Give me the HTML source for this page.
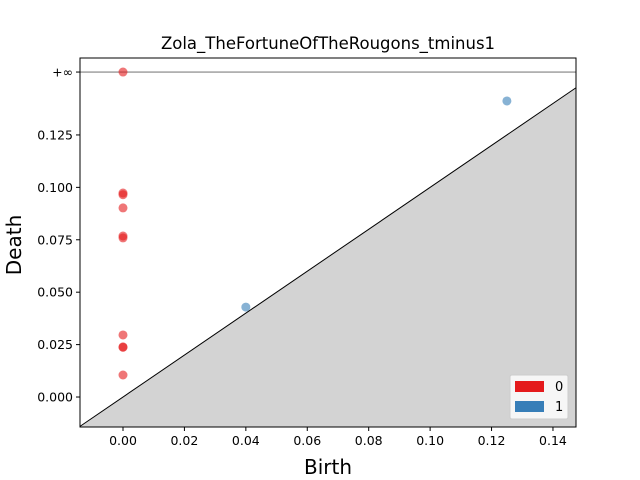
<!DOCTYPE html>
<html><head><meta charset="utf-8"><style>body{margin:0;background:#fff}svg{display:block}text{font-family:"DejaVu Sans","Liberation Sans",sans-serif}</style></head>
<body>
<svg id="c" width="640" height="480" xmlns="http://www.w3.org/2000/svg"></svg>
<script>
const h0Births=[0,0,0,0,0,0,0,0,0,0];
const h0Deaths=[Infinity,0.0973,0.0965,0.0902,0.0768,0.0759,0.0296,0.0239,0.0237,0.0105];
const h1Births=[0.04,0.125];
const h1Deaths=[0.0429,0.1412];
const xTicks=[0,0.02,0.04,0.06,0.08,0.10,0.12,0.14];
const yTicks=[0,0.025,0.05,0.075,0.1,0.125];
const xMin=-0.014,xMax=0.1475,yMin=-0.0143,yMax=0.1617,infVal=0.155;
const L=80,R=576,T=58,B=427;
const sx=v=>L+(v-xMin)/(xMax-xMin)*(R-L);
const sy=v=>B-(v-yMin)/(yMax-yMin)*(B-T);
const svg=document.getElementById('c');const NS='http://www.w3.org/2000/svg';
function mk(t,a,p){const e=document.createElementNS(NS,t);for(const k in a)e.setAttribute(k,a[k]);(p||svg).appendChild(e);return e;}
let e=mk('polygon',{points:`${sx(xMin)},${sy(yMin)} ${sx(xMax)},${sy(xMin)} ${sx(xMax)},${sy(xMax)}`,fill:'#d3d3d3'});


e=mk('line',{x1:sx(xMin),y1:sy(xMin),x2:sx(xMax),y2:sy(xMax),stroke:'#000','stroke-width':1});


e=mk('line',{x1:L,y1:sy(infVal),x2:R,y2:sy(infVal),stroke:'#808080','stroke-width':1.2});


h0Births.forEach((b,i)=>{const dv=h0Deaths[i]===Infinity?infVal:h0Deaths[i];
e=mk('circle',{cx:sx(b),cy:sy(dv),r:4.5,fill:'#e41a1c','fill-opacity':0.6});

});
h1Births.forEach((b,i)=>{
e=mk('circle',{cx:sx(b),cy:sy(h1Deaths[i]),r:4.5,fill:'#377eb8','fill-opacity':0.6});

});
e=mk('rect',{x:L,y:T,width:R-L,height:B-T,fill:'none',stroke:'#000','stroke-width':1});


xTicks.forEach(v=>{const x=sx(v);mk('line',{x1:x,y1:B,x2:x,y2:B+4,stroke:'#000'});
e=mk('text',{x:x,y:B+18,'font-size':12.5,'text-anchor':'middle'});e.textContent=v.toFixed(2);

});
yTicks.forEach(v=>{const y=sy(v);mk('line',{x1:L-4,y1:y,x2:L,y2:y,stroke:'#000'});
e=mk('text',{x:L-7,y:y+4.5,'font-size':12.5,'text-anchor':'end'});e.textContent=v.toFixed(3);

});
mk('line',{x1:L-4,y1:sy(infVal),x2:L,y2:sy(infVal),stroke:'#000'});
e=mk('text',{x:L-7,y:sy(infVal)+4.5,'font-size':12.5,'text-anchor':'end'});e.textContent='+∞';


e=mk('text',{x:328,y:49,'font-size':16.5,'text-anchor':'middle'});e.textContent='Zola_TheFortuneOfTheRougons_tminus1';


e=mk('text',{x:328,y:474,'font-size':20,'text-anchor':'middle'});e.textContent='Birth';


e=mk('text',{x:21,y:245,'font-size':20,'text-anchor':'middle',transform:'rotate(-90 21 245)'});e.textContent='Death';


const g=mk('g',{});
mk('rect',{x:510,y:375,width:58,height:44,rx:2,fill:'#fff','fill-opacity':0.8,stroke:'#ccc'},g);
[['0','#e41a1c',381],['1','#377eb8',401]].forEach(([l,c,y])=>{
const r=mk('rect',{x:515,y:y,width:29,height:11,fill:c},g);


const t=mk('text',{x:555,y:y+10,'font-size':13},g);t.textContent=l;

});
</script>
</body></html>
